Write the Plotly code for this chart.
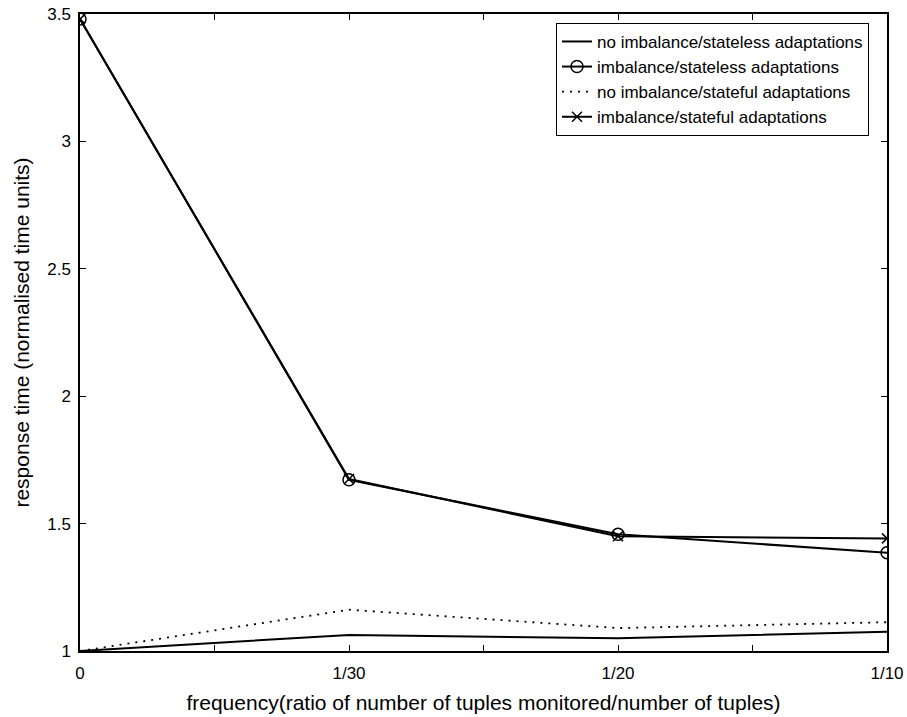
import plotly.graph_objects as go

categories = ["0", "1/30", "1/20", "1/10"]
no_imb_stateless = [1.0, 1.063, 1.05, 1.076]
imb_stateless = [3.48, 1.672, 1.458, 1.386]
no_imb_stateful = [1.0, 1.162, 1.09, 1.113]
imb_stateful = [3.48, 1.675, 1.45, 1.442]
y_ticks = [1, 1.5, 2, 2.5, 3, 3.5]
y_tick_labels = ["1", "1.5", "2", "2.5", "3", "3.5"]

x = list(range(len(categories)))

fig = go.Figure()
fig.add_trace(go.Scatter(x=x, y=no_imb_stateless, mode="lines",
                         name="no imbalance/stateless adaptations",
                         line=dict(color="black", width=2)))
fig.add_trace(go.Scatter(x=x, y=imb_stateless, mode="lines+markers",
                         name="imbalance/stateless adaptations",
                         line=dict(color="black", width=2),
                         marker=dict(symbol="circle-open", size=12, color="black",
                                     line=dict(width=1.5, color="black"))))
fig.add_trace(go.Scatter(x=x, y=no_imb_stateful, mode="lines",
                         name="no imbalance/stateful adaptations",
                         line=dict(color="black", width=1.8, dash="2px,6px")))
fig.add_trace(go.Scatter(x=x, y=imb_stateful, mode="lines+markers",
                         name="imbalance/stateful adaptations",
                         line=dict(color="black", width=2),
                         marker=dict(symbol="x-thin", size=10, color="black",
                                     line=dict(width=1.5, color="black"))))

tickvals = []
ticktext = []
for i, c in enumerate(categories):
    tickvals.append(i)
    ticktext.append(c)
    if i < len(categories) - 1:
        tickvals.append(i + 0.5)
        ticktext.append("")

font = dict(family="Liberation Sans, Arial, sans-serif", color="black")

fig.update_layout(
    width=907, height=717,
    margin=dict(l=80, r=20, t=14, b=66),
    paper_bgcolor="white", plot_bgcolor="white",
    font=dict(size=17, **font),
    showlegend=True,
    legend=dict(x=0.9777, y=0.986, xanchor="right", yanchor="top",
                bordercolor="black", borderwidth=1, bgcolor="white",
                font=dict(size=17, **font), tracegroupgap=0,
                itemwidth=30),
    xaxis=dict(range=[0, len(categories) - 1], tickvals=tickvals, ticktext=ticktext,
               showgrid=False, zeroline=False, showline=True, linecolor="black",
               linewidth=1.5, mirror="ticks", ticks="inside", ticklen=6,
               tickcolor="black", tickfont=dict(size=17, **font),
               ticklabelstandoff=6, automargin=False,
               title=dict(text="frequency(ratio of number of tuples monitored/number of tuples)",
                          font=dict(size=21, **font), standoff=13)),
    yaxis=dict(range=[1, 3.5], tickvals=y_ticks, ticktext=y_tick_labels,
               showgrid=False, zeroline=False, showline=True, linecolor="black",
               linewidth=1.5, mirror="ticks", ticks="inside", ticklen=6,
               tickcolor="black", tickfont=dict(size=17, **font),
               ticklabelstandoff=4, automargin=False,
               title=dict(text="response time (normalised time units)",
                          font=dict(size=21, **font), standoff=12)),
)

fig.write_html("out.html")
